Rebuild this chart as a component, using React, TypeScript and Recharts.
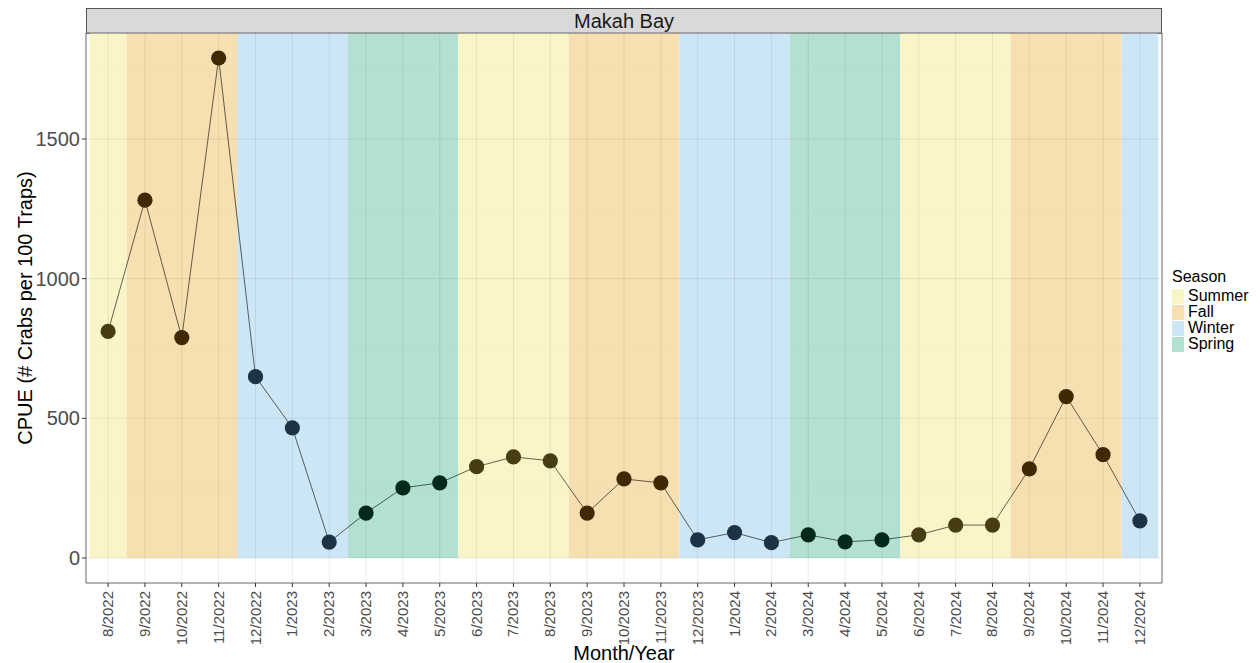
import {
  ComposedChart,
  Line,
  XAxis,
  YAxis,
  ReferenceArea,
  ReferenceLine,
} from 'recharts';

const MONTHS = [
  '8/2022', '9/2022', '10/2022', '11/2022', '12/2022', '1/2023', '2/2023', '3/2023',
  '4/2023', '5/2023', '6/2023', '7/2023', '8/2023', '9/2023', '10/2023', '11/2023',
  '12/2023', '1/2024', '2/2024', '3/2024', '4/2024', '5/2024', '6/2024', '7/2024',
  '8/2024', '9/2024', '10/2024', '11/2024', '12/2024',
];

const CPUE = [
  811, 1281, 789, 1790, 649, 466, 57, 161, 251, 269, 327, 362, 348, 161, 283, 269,
  65, 91, 55, 83, 58, 65, 83, 118, 118, 319, 578, 370, 133,
];

const SEASONS = ['Summer', 'Fall', 'Winter', 'Spring'];
const SEASON_FILL: Record<string, string> = {
  Summer: '#f9f5c6',
  Fall: '#f6dfb0',
  Winter: '#cce6f5',
  Spring: '#b2e0d3',
};
const SEASON_DOT: Record<string, string> = {
  Summer: '#463d12',
  Fall: '#3e2900',
  Winter: '#1c3245',
  Spring: '#022a1b',
};
// month number -> season
const MONTH_SEASON = ['', 'Winter', 'Winter', 'Spring', 'Spring', 'Spring', 'Summer', 'Summer', 'Summer', 'Fall', 'Fall', 'Fall', 'Winter'];

const Y_TICKS = [0, 500, 1000, 1500];
const Y_MINOR = [250, 750, 1250, 1750];

const Y_MIN = -89.5;
const Y_MAX = 1879.5;
const X_MIN = 0.4;
const X_MAX = MONTHS.length + 0.6;

const data = MONTHS.map((m, i) => ({
  idx: i + 1,
  month: m,
  cpue: CPUE[i],
  season: MONTH_SEASON[Number(m.split('/')[0])],
}));

// contiguous season runs for background bands
const bands: { season: string; start: number; end: number }[] = [];
data.forEach((d) => {
  const last = bands[bands.length - 1];
  if (last && last.season === d.season) last.end = d.idx;
  else bands.push({ season: d.season, start: d.idx, end: d.idx });
});

const FONT = '"Liberation Sans", Arial, sans-serif';

function MonthTick(props: { x?: number; y?: number; payload?: { value: number } }) {
  const { x = 0, y = 0, payload } = props;
  if (!payload) return null;
  return (
    <g transform={`translate(${x},${y})`}>
      <text
        x={0}
        y={0}
        dx={-2}
        dy={5}
        transform="rotate(-90)"
        textAnchor="end"
        fill="#4d4d4d"
        fontSize={15}
        fontFamily={FONT}
      >
        {MONTHS[payload.value - 1]}
      </text>
    </g>
  );
}

function SeasonDot(props: { cx?: number; cy?: number; payload?: { season: string }; index?: number }) {
  const { cx = 0, cy = 0, payload, index } = props;
  if (!payload) return null;
  return <circle key={`dot-${index}`} cx={cx} cy={cy} r={7.6} fill={SEASON_DOT[payload.season]} />;
}

function SeasonLegend() {
  return (
    <div style={{ position: 'absolute', left: 1172, top: 268, fontFamily: FONT, color: '#000' }}>
      <div style={{ fontSize: 16, lineHeight: '18px', marginBottom: 2 }}>Season</div>
      {SEASONS.map((s) => (
        <div key={s} style={{ display: 'flex', alignItems: 'center', height: 16 }}>
          <span style={{ width: 12, height: 15, background: SEASON_FILL[s], marginRight: 4 }} />
          <span style={{ fontSize: 16, lineHeight: '16px' }}>{s}</span>
        </div>
      ))}
    </div>
  );
}

export default function App() {
  return (
    <div style={{ position: 'absolute', left: 0, top: 0, width: 1260, height: 663, background: '#fff' }}>
      <div
        style={{
          position: 'absolute',
          left: 86,
          top: 8,
          width: 1076,
          height: 26,
          background: '#d9d9d9',
          border: '1px solid #555',
          boxSizing: 'border-box',
          fontFamily: FONT,
          fontSize: 20,
          color: '#1a1a1a',
          textAlign: 'center',
          lineHeight: '24px',
        }}
      >
        Makah Bay
      </div>
      <ComposedChart
        width={1260}
        height={663}
        data={data}
        margin={{ top: 33, right: 98, bottom: 0, left: 0 }}
      >
        <XAxis
          type="number"
          dataKey="idx"
          domain={[X_MIN, X_MAX]}
          ticks={data.map((d) => d.idx)}
          interval={0}
          allowDataOverflow
          height={80}
          tickSize={4}
          tick={<MonthTick />}
          tickLine={{ stroke: '#333' }}
          axisLine={false}
          label={{
            content: (p: any) => {
              const vb = p.viewBox || { x: 0, y: 0, width: 0, height: 0 };
              return (
                <text
                  x={vb.x + vb.width / 2}
                  y={vb.y + vb.height - 3}
                  textAnchor="middle"
                  fontSize={20}
                  fontFamily={FONT}
                  fill="#000"
                >
                  Month/Year
                </text>
              );
            },
          }}
        />
        <YAxis
          type="number"
          domain={[Y_MIN, Y_MAX]}
          ticks={Y_TICKS}
          allowDataOverflow
          width={86}
          tickSize={4}
          tick={{ fontSize: 20, fill: '#4d4d4d', fontFamily: FONT }}
          tickLine={{ stroke: '#333' }}
          axisLine={false}
          label={{
            content: (p: any) => {
              const vb = p.viewBox || { x: 0, y: 0, width: 0, height: 0 };
              const cx = 27;
              const cy = vb.y + vb.height / 2;
              return (
                <text
                  x={cx}
                  y={cy}
                  transform={`rotate(-90 ${cx} ${cy})`}
                  textAnchor="middle"
                  dominantBaseline="middle"
                  fontSize={20}
                  fontFamily={FONT}
                  fill="#000"
                >
                  CPUE (# Crabs per 100 Traps)
                </text>
              );
            },
          }}
        />

        {bands.map((b) => (
          <ReferenceArea
            key={`band-${b.start}`}
            x1={b.start - 0.5}
            x2={b.end + 0.5}
            y1={0}
            y2={Y_MAX}
            fill={SEASON_FILL[b.season]}
            fillOpacity={1}
            stroke="none"
          />
        ))}

        {Y_MINOR.map((v) => (
          <ReferenceLine key={`ymin-${v}`} y={v} stroke="rgba(0,0,0,0.04)" strokeWidth={0.6} />
        ))}
        {Y_TICKS.map((v) => (
          <ReferenceLine key={`ymaj-${v}`} y={v} stroke="rgba(0,0,0,0.07)" strokeWidth={1} />
        ))}
        {data.map((d) => (
          <ReferenceLine key={`xmaj-${d.idx}`} x={d.idx} stroke="rgba(0,0,0,0.07)" strokeWidth={1} />
        ))}

        <ReferenceArea
          x1={X_MIN}
          x2={X_MAX}
          y1={Y_MIN}
          y2={Y_MAX}
          fill="none"
          stroke="#666"
          strokeWidth={1}
        />

        <Line
          type="linear"
          dataKey="cpue"
          stroke="rgba(0,0,0,0.6)"
          strokeWidth={1}
          dot={<SeasonDot />}
          activeDot={false}
          isAnimationActive={false}
        />
      </ComposedChart>
      <SeasonLegend />
    </div>
  );
}
